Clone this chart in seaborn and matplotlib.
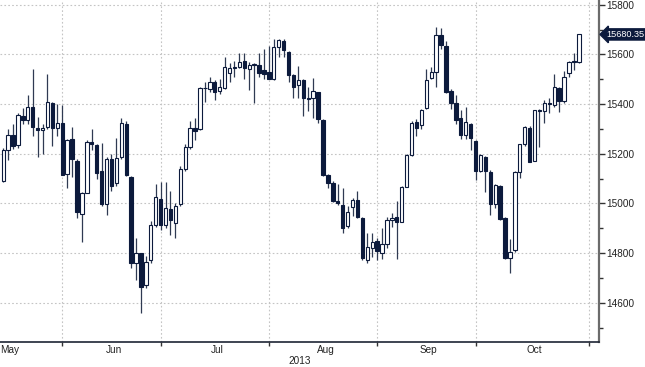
import numpy as np
import pandas as pd
import matplotlib
matplotlib.use("Agg")
import matplotlib.pyplot as plt
import matplotlib.transforms as mtransforms
from matplotlib import font_manager
import seaborn as sns

# Trading days shown on the chart (US holidays removed)
holidays = ["2013-05-27", "2013-07-04", "2013-09-02"]
dates = pd.bdate_range("2013-05-14", "2013-10-31")
dates = dates[~dates.isin(pd.to_datetime(holidays))]

# Daily OHLC (May 14 .. Oct 29)
opens = [15092, 15215, 15276, 15235, 15352, 15335, 15387, 15302, 15294, 15309, 15403, 15305, 15322,
         15118, 15258, 15170, 14957, 15043, 15249, 15235, 15132, 14997, 15179, 15081, 15188, 15320, 15105,
         14759, 14799, 14671, 14772, 14913, 15018,
         14913, 14976, 14922, 14997, 15137, 15228, 15302, 15300, 15463, 15459, 15490, 15451, 15466, 15524,
         15544, 15550, 15575, 15540, 15557, 15557, 15537, 15530,
         15501, 15631, 15655, 15608, 15517, 15477, 15497, 15423, 15423, 15447, 15336, 15114, 15081, 15011,
         14993, 14909, 14987, 15013, 14940, 14770, 14820, 14850,
         14799, 14836, 14932, 14944, 14926, 15067, 15195, 15329, 15316, 15383, 15504, 15530, 15678, 15634,
         15454, 15403, 15343, 15275, 15320, 15251,
         15132, 15185, 15128, 14997, 15070, 14940, 14779, 14812, 15128, 15239, 15302, 15172, 15376, 15373,
         15403, 15396, 15463, 15413, 15524, 15570, 15570]
highs = [15222, 15300, 15320, 15365, 15385, 15435, 15542, 15349, 15320, 15520, 15410, 15400, 15397,
         15260, 15309, 15178, 15045, 15255, 15300, 15240, 15242, 15185, 15200, 15262, 15343, 15330, 15112,
         14862, 14800, 14790, 14930, 15078, 15087,
         15087, 15051, 15000, 15150, 15240, 15330, 15345, 15470, 15490, 15510, 15497, 15500, 15591, 15564,
         15575, 15604, 15604, 15570, 15565, 15605, 15620, 15634,
         15660, 15662, 15660, 15615, 15520, 15555, 15500, 15470, 15504, 15450, 15338, 15120, 15090, 15078,
         15060, 14990, 15020, 15051, 14945, 14880, 14879, 14860,
         14900, 14945, 14960, 15010, 15070, 15200, 15330, 15340, 15380, 15540, 15550, 15711, 15705, 15655,
         15460, 15436, 15376, 15389, 15325, 15255,
         15200, 15190, 15135, 15080, 15075, 14945, 14855, 15130, 15240, 15310, 15310, 15376, 15380, 15416,
         15423, 15521, 15470, 15534, 15575, 15604, 15684]
lows = [15085, 15175, 15220, 15225, 15320, 15320, 15271, 15188, 15200, 15300, 15232, 15270, 15115,
        15060, 15107, 14940, 14846, 15040, 15215, 15100, 14990, 14953, 15050, 15070, 15180, 15110, 14738,
        14691, 14557, 14660, 14760, 14905, 14893,
        14900, 14873, 14860, 14990, 15130, 15220, 15255, 15295, 15410, 15450, 15416, 15440, 15460, 15490,
        15510, 15545, 15500, 15457, 15405, 15510, 15500, 15500,
        15495, 15590, 15588, 15490, 15423, 15425, 15350, 15370, 15343, 15322, 15110, 15061, 15005, 14995,
        14882, 14900, 14950, 14940, 14770, 14760, 14785, 14772,
        14777, 14820, 14905, 14777, 14925, 15065, 15190, 15270, 15300, 15380, 15500, 15470, 15620, 15445,
        15380, 15320, 15260, 15260, 15215, 15094,
        15125, 15047, 14953, 14980, 14935, 14776, 14721, 14805, 15101, 15230, 15165, 15170, 15228, 15322,
        15365, 15390, 15369, 15405, 15510, 15537, 15565]
closes = [15215, 15276, 15233, 15354, 15335, 15387, 15307, 15294, 15303, 15409, 15302, 15324, 15116,
          15254, 15177, 14964, 15043, 15249, 15240, 15123, 14997, 15177, 15071, 15181, 15322, 15114, 14759,
          14799, 14662, 14763, 14912, 15027, 14913,
          14980, 14933, 14989, 15137, 15226, 15302, 15293, 15463, 15465, 15490, 15450, 15470, 15550, 15544,
          15548, 15570, 15544, 15557, 15560, 15524, 15521, 15501,
          15631, 15658, 15618, 15517, 15470, 15497, 15423, 15420, 15452, 15338, 15114, 15083, 15011, 15003,
          14900, 14967, 15013, 14946, 14779, 14826, 14843, 14809,
          14836, 14932, 14941, 14926, 15065, 15195, 15325, 15302, 15376, 15497, 15530, 15678, 15638, 15450,
          15403, 15336, 15275, 15329, 15263, 15132,
          15195, 15132, 14997, 15074, 14937, 14779, 14803, 15128, 15239, 15306, 15168, 15376, 15373, 15403,
          15399, 15467, 15413, 15510, 15570, 15569, 15680.35]

last_label = "15680.35"
y_ticks = [14600, 14800, 15000, 15200, 15400, 15600, 15800]
month_names = ["May", "Jun", "Jul", "Aug", "Sep", "Oct"]

df = pd.DataFrame({"open": opens, "high": highs, "low": lows, "close": closes})
df["date"] = dates[:len(df)]
df["x"] = np.arange(len(df))

navy = "#0c1a3c"
wick_c = "#2f3a52"
txt_c = "#222222"

sns.set_theme(style="white")
names = {f.name for f in font_manager.fontManager.ttflist}
fam = "Liberation Sans Narrow" if "Liberation Sans Narrow" in names else "Liberation Sans"
plt.rcParams["font.family"] = [fam, "DejaVu Sans"]

fig = plt.figure(figsize=(6.45, 3.67), dpi=100)
ax = fig.add_axes([0.0, 1 - 341.7 / 367, 599 / 645, 341.7 / 367])

# wicks
ax.vlines(df["x"], df["low"], df["high"], color=wick_c, linewidth=0.9, zorder=2)

# bodies
up = df["close"] >= df["open"]
bottom = np.minimum(df["open"], df["close"])
height = np.maximum(np.abs(df["close"] - df["open"]), 3)
ax.bar(df["x"][up], height[up], bottom=bottom[up], width=0.68,
       color="white", edgecolor=navy, linewidth=0.8, zorder=3)
ax.bar(df["x"][~up], height[~up], bottom=bottom[~up], width=0.68,
       color=navy, edgecolor=navy, linewidth=0.8, zorder=3)

# month boundaries: last trading day of each month
month_idx = pd.Series(np.arange(len(dates)), index=dates)
month_end = month_idx.groupby(dates.month).max()
month_mid = month_idx.groupby(dates.month).apply(lambda s: (s.min() + s.max()) / 2)

ax.set_xlim(-0.65, 121.1)
ax.set_ylim(14443, 15819)

ax.set_xticks(month_end.values)
ax.set_xticklabels([])
ax.set_yticks(y_ticks)
ax.set_yticks(np.arange(14500, 15900, 200), minor=True)
ax.yaxis.tick_right()
ax.tick_params(axis="y", which="major", direction="out", length=4, width=1, color="#333333",
               labelsize=7.2, labelcolor=txt_c, pad=1.5, right=True, left=False)
ax.tick_params(axis="y", which="minor", direction="out", length=3, width=1, color="#333333",
               right=True, left=False)
ax.tick_params(axis="x", which="major", direction="out", length=3, width=1, color="#333333",
               bottom=True)

ax.grid(True, which="major", axis="both", linestyle=(0, (1.5, 2)), color="#c4c4c4", linewidth=0.8)
ax.set_axisbelow(True)

for side in ["left", "top"]:
    ax.spines[side].set_visible(False)
ax.spines["right"].set_color("#6b6b6b")
ax.spines["right"].set_linewidth(1.6)
ax.spines["bottom"].set_color("#1e2535")
ax.spines["bottom"].set_linewidth(1.2)

trans = mtransforms.blended_transform_factory(ax.transData, ax.transAxes)
for i, name in enumerate(month_names):
    m = i + 5
    if name == "May":
        ax.text(-0.65, -0.024, name, transform=trans, ha="left", va="center", fontsize=7.2, color=txt_c)
    else:
        ax.text(month_mid[m], -0.024, name, transform=trans, ha="center", va="center",
                fontsize=7.2, color=txt_c)
ax.text(0.5, -0.057, "2013", transform=ax.transAxes, ha="center", va="center", fontsize=7.2,
        color=txt_c)

# last price tag
trans_y = mtransforms.blended_transform_factory(ax.transAxes, ax.transData)
ax.text(1.0115, closes[-1], last_label, transform=trans_y, ha="left", va="center", fontsize=6.6,
        color="white", clip_on=False,
        bbox=dict(boxstyle="larrow,pad=0.12", fc=navy, ec=navy))

fig.savefig("out.png", dpi=100)
